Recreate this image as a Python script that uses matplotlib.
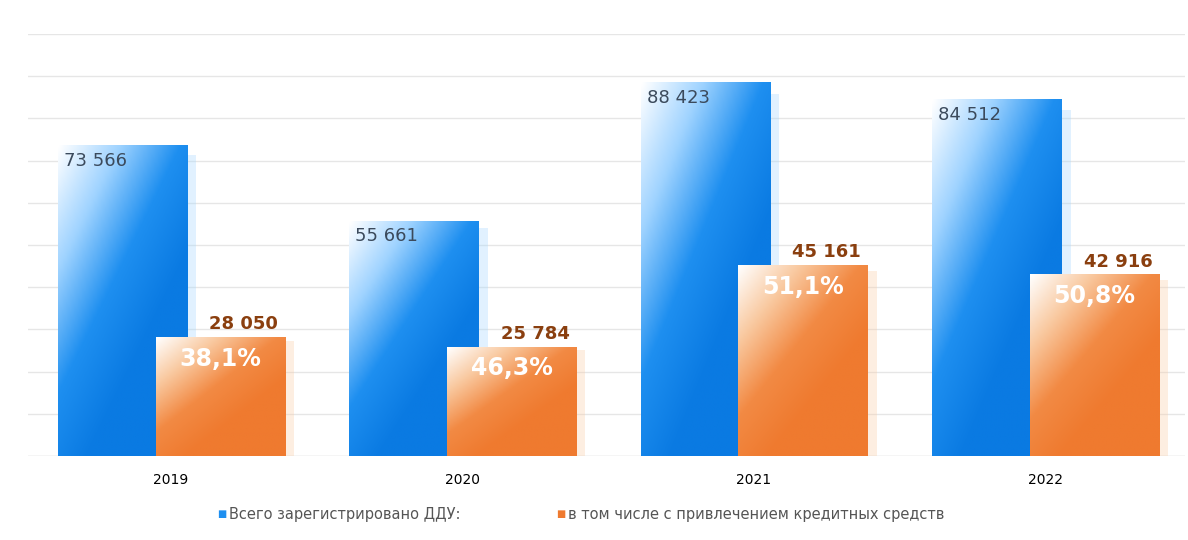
import numpy as np
import matplotlib
matplotlib.use("Agg")
import matplotlib.pyplot as plt
from matplotlib.colors import LinearSegmentedColormap

years = ["2019", "2020", "2021", "2022"]
total = [73566, 55661, 88423, 84512]
credit = [28050, 25784, 45161, 42916]
shares = ["38,1%", "46,3%", "51,1%", "50,8%"]
labels_total = ["73 566", "55 661", "88 423", "84 512"]
labels_credit = ["28 050", "25 784", "45 161", "42 916"]

fig = plt.figure(figsize=(11.88, 5.4), dpi=100)
ax = fig.add_axes([28/1188, 1-456/540, (1185-28)/1188, (456-34)/540])
ax.set_xlim(-0.49, 3.48)
ax.set_ylim(0, 100000)
for v in range(10000, 100001, 10000):
    ax.axhline(v, color="#e6e6e6", lw=1, zorder=0)
ax.axhline(0, color="#d0d0d0", lw=1, zorder=0)

blue = LinearSegmentedColormap.from_list("b", ["#ffffff", "#9fd3ff", "#1e8ff0", "#0a7ae2"])
orange = LinearSegmentedColormap.from_list("o", ["#ffffff", "#f9c9a0", "#f28a44", "#ef7a2f"])
yy, xx = np.mgrid[0:1:100j, 0:1:100j]
grad = np.clip(0.3 + 0.9*(0.65*yy + 0.55*xx), 0, 1)  # row 0 = bottom (origin lower)

w = 0.445
def bar(xc, h, cmap, z):
    x0, x1 = xc - w/2, xc + w/2
    ax.fill_between([x1, x1 + 0.03], 0, h*0.97, color=cmap(0.3), alpha=0.35, lw=0, zorder=z-0.5)
    ax.imshow(1 - grad[::-1] if False else grad, cmap=cmap, extent=[x0, x1, 0, h], origin="upper",
              aspect="auto", zorder=z, interpolation="bilinear")

for i in range(4):
    bar(i - 0.165, total[i], blue, 2)
    bar(i + 0.17, credit[i], orange, 3)
    ax.text(i - 0.165 - w/2 + 0.02, total[i] - 1500, labels_total[i], ha="left", va="top",
            fontsize=13, color="#3b4a5c", zorder=5)
    ax.text(i + 0.17 + 0.08, credit[i] + 1000, labels_credit[i], ha="center", va="bottom",
            fontsize=13, fontweight="bold", color="#8a3f0f", zorder=5)
    ax.text(i + 0.17, credit[i] - 2200, shares[i], ha="center", va="top",
            fontsize=17, fontweight="bold", color="white", zorder=5)

ax.set_xticks(range(4))
ax.set_xticklabels(years, fontsize=10)
ax.tick_params(length=0, pad=12)
ax.set_yticks([])
for s in ax.spines.values():
    s.set_visible(False)

fig.text(0.183, 1-514/540, "■", color="#1e8ff0", fontsize=7, va="center")
fig.text(0.193, 1-514/540, "Всего зарегистрировано ДДУ:", color="#555555", fontsize=10.5, va="center")
fig.text(0.468, 1-514/540, "■", color="#ef7a2f", fontsize=7, va="center")
fig.text(0.478, 1-514/540, "в том числе с привлечением кредитных средств", color="#555555", fontsize=10.5, va="center")

fig.savefig("out.png", dpi=100)
